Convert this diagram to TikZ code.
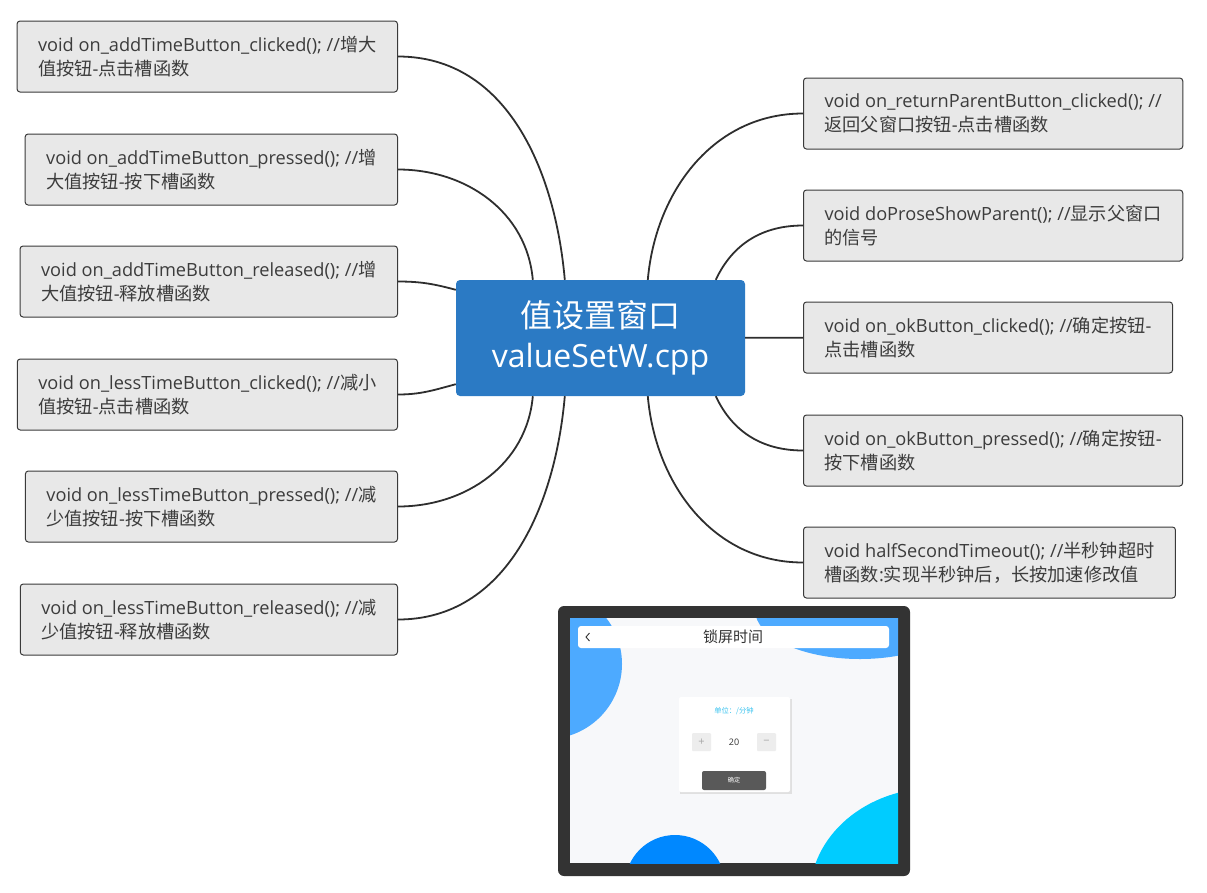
\documentclass[tikz,border=0pt]{standalone}
\usepackage{fontspec}
\setmainfont{Open Sans}
\newfontfamily\cjk{Noto Sans CJK SC}
\newcommand\zh[1]{{\cjk #1}}
\usetikzlibrary{positioning}

\definecolor{hubblue}{HTML}{2B7AC4}
\definecolor{leafgray}{HTML}{E8E8E8}
\definecolor{leafline}{HTML}{3A3A3A}
\definecolor{leaftext}{HTML}{3C3C3C}
\definecolor{linkgray}{HTML}{2E2E2E}
\definecolor{framegray}{HTML}{333333}
\definecolor{screenbg}{HTML}{F7F8FA}
\definecolor{skyblue}{HTML}{4DAAFF}
\definecolor{deepblue}{HTML}{0088FF}
\definecolor{cyanblue}{HTML}{00CCFF}
\definecolor{unitcyan}{HTML}{3CC4F0}

\begin{document}
\begin{tikzpicture}[x=1pt,y=1pt]
    % Mind map styles
    \tikzstyle{leaf}=[draw=leafline, fill=leafgray, rounded corners=3pt, line width=1pt,
        inner xsep=21pt, minimum height=71pt, align=left, text=leaftext,
        font=\fontsize{18.2}{24}\selectfont]
    \tikzstyle{hub}=[fill=hubblue, rounded corners=4pt, minimum width=289pt, minimum height=116pt,
        align=center, text=white, font=\fontsize{32}{40}\selectfont]
    \tikzstyle{link}=[draw=linkgray, line width=1.8pt]

    \useasboundingbox (0,0) rectangle (1207,-892);

    % Centre node
    \node[hub] (c) at (600.5,-338) {\zh{值设置窗口}\\valueSetW.cpp};

    % Left leaves
    \node[leaf,anchor=east] (l1) at (398,-56.5)  {void on\_addTimeButton\_clicked(); //\zh{增大}\\\zh{值按钮}-\zh{点击槽函数}};
    \node[leaf,anchor=east] (l2) at (398,-169.5) {void on\_addTimeButton\_pressed(); //\zh{增}\\\zh{大值按钮}-\zh{按下槽函数}};
    \node[leaf,anchor=east] (l3) at (398,-281.5) {void on\_addTimeButton\_released(); //\zh{增}\\\zh{大值按钮}-\zh{释放槽函数}};
    \node[leaf,anchor=east] (l4) at (398,-394.5) {void on\_lessTimeButton\_clicked(); //\zh{减小}\\\zh{值按钮}-\zh{点击槽函数}};
    \node[leaf,anchor=east] (l5) at (398,-506.5) {void on\_lessTimeButton\_pressed(); //\zh{减}\\\zh{少值按钮}-\zh{按下槽函数}};
    \node[leaf,anchor=east] (l6) at (398,-619.5) {void on\_lessTimeButton\_released(); //\zh{减}\\\zh{少值按钮}-\zh{释放槽函数}};

    % Right leaves
    \node[leaf,anchor=west] (r1) at (803,-113.5) {void on\_returnParentButton\_clicked(); //\\\zh{返回父窗口按钮}-\zh{点击槽函数}};
    \node[leaf,anchor=west] (r2) at (803,-225.5) {void doProseShowParent(); //\zh{显示父窗口}\\\zh{的信号}};
    \node[leaf,anchor=west] (r3) at (803,-337.5) {void on\_okButton\_clicked(); //\zh{确定按钮}-\\\zh{点击槽函数}};
    \node[leaf,anchor=west] (r4) at (803,-450.5) {void on\_okButton\_pressed(); //\zh{确定按钮}-\\\zh{按下槽函数}};
    \node[leaf,anchor=west] (r5) at (803,-562.5) {void halfSecondTimeout(); //\zh{半秒钟超时}\\\zh{槽函数}:\zh{实现半秒钟后，长按加速修改值}};

    % Where the links leave the centre node
    \coordinate (tl1) at ([xshift=109pt]c.north west);
    \coordinate (tl2) at ([xshift=77pt]c.north west);
    \coordinate (tr1) at ([xshift=192pt]c.north west);
    \coordinate (tr2) at ([xshift=260pt]c.north west);
    \coordinate (bl1) at ([xshift=109pt]c.south west);
    \coordinate (bl2) at ([xshift=77pt]c.south west);
    \coordinate (br1) at ([xshift=192pt]c.south west);
    \coordinate (br2) at ([xshift=260pt]c.south west);
    \coordinate (wl1) at ([yshift=-10pt]c.north west);
    \coordinate (wl2) at ([yshift=12pt]c.south west);

    % Links
    \path[link]
    (tl1) edge [out=95,in=0]   (l1)
    (tl2) edge [out=95,in=0]   (l2)
    (wl1) edge [out=165,in=0]  (l3)
    (wl2) edge [out=195,in=0]  (l4)
    (bl2) edge [out=265,in=0]  (l5)
    (bl1) edge [out=265,in=0]  (l6)
    (tr1) edge [out=85,in=180] (r1)
    (tr2) edge [out=65,in=180] (r2)
    (c)   edge                 (r3)
    (br2) edge [out=-65,in=180] (r4)
    (br1) edge [out=-85,in=180] (r5);

    % Screenshot of the window
    \fill[framegray, rounded corners=6pt] (558,-606) rectangle (910,-876);
    \begin{scope}
        \clip (570,-618) rectangle (898,-863);
        \fill[screenbg] (570,-618) rectangle (898,-863);
        \fill[skyblue]  (547,-664) circle (75);
        \fill[skyblue]  (860,-610) ellipse (105 and 49);
        \fill[deepblue] (675,-885) circle (50);
        \fill[cyanblue] (935,-895) ellipse (125 and 107);
    \end{scope}
    \fill[white, rounded corners=3pt] (578,-626) rectangle (889,-648);
    \draw[framegray, line width=0.9pt] (589.5,-633) -- (586,-637) -- (589.5,-641);
    \node[text=framegray, font=\cjk\fontsize{15}{15}\selectfont] (title) at (733,-637) {锁屏时间};
    \fill[black!12] (680,-699) rectangle (792,-794);
    \fill[white, rounded corners=2pt] (679,-697) rectangle (790,-792);
    \node[text=unitcyan, font=\cjk\fontsize{7.3}{8}\selectfont] (unit) at (734,-711) {单位：/分钟};
    \fill[black!7, rounded corners=1pt] (692,-733) rectangle (711,-751);
    \fill[black!7, rounded corners=1pt] (757,-733) rectangle (776,-751);
    \node[text=black!35, font=\fontsize{11}{11}\selectfont] (plus) at (701.5,-742) {+};
    \node[text=black!35, font=\fontsize{11}{11}\selectfont] (minus) at (766.5,-742) {−};
    \node[text=framegray, font=\fontsize{9}{9}\selectfont] (val) at (734,-742) {20};
    \fill[black!65, rounded corners=2pt] (702,-771) rectangle (766,-790);
    \node[text=white, font=\cjk\fontsize{6.2}{7}\selectfont] (ok) at (734,-780.5) {确定};
\end{tikzpicture}
\end{document}
